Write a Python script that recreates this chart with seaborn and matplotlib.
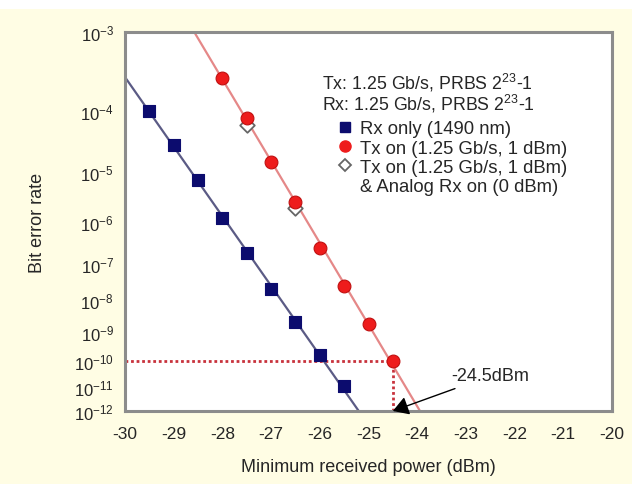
import numpy as np
import pandas as pd
import matplotlib
matplotlib.use("Agg")
import matplotlib.pyplot as plt
import seaborn as sns
from matplotlib.lines import Line2D
from matplotlib.patches import Rectangle

# Data
power_rx_only = [-29.5, -29.0, -28.5, -28.0, -27.5, -27.0, -26.5, -26.0, -25.5]
ber_rx_only = [1.0e-4, 2.9e-5, 7.0e-6, 1.2e-6, 1.8e-7, 2.1e-8, 2.1e-9, 1.7e-10, 1.1e-11]

power_tx_on = [-28.0, -27.5, -27.0, -26.5, -26.0, -25.5, -25.0, -24.5]
ber_tx_on = [2.8e-4, 7.9e-5, 1.5e-5, 2.6e-6, 2.5e-7, 2.5e-8, 1.8e-9, 1.0e-10]

power_analog = [-27.5, -26.5]
ber_analog = [6.1e-5, 1.9e-6]

x_ticks = list(range(-30, -19))
ber_exponents = [-3, -4, -5, -6, -7, -8, -9, -10, -11, -12]
ref_power = -24.5
ref_ber = 1e-10
ref_label = "-24.5dBm"

series_labels = ["Rx only (1490 nm)", "Tx on (1.25 Gb/s, 1 dBm)",
                 "Tx on (1.25 Gb/s, 1 dBm)", "& Analog Rx on (0 dBm)"]
header = ["Tx: 1.25 Gb/s, PRBS 2$^{23}$-1", "Rx: 1.25 Gb/s, PRBS 2$^{23}$-1"]


# BER scale: -log10(-log10(BER)) so that error-function curves become straight
def fwd(y):
    y = np.clip(np.asarray(y, dtype=float), 1e-300, 1 - 1e-12)
    return -np.log10(-np.log10(y))


def inv(u):
    return 10.0 ** (-(10.0 ** (-np.asarray(u, dtype=float))))


df_rx = pd.DataFrame({"power": power_rx_only, "ber": ber_rx_only})
df_tx = pd.DataFrame({"power": power_tx_on, "ber": ber_tx_on})
df_an = pd.DataFrame({"power": power_analog, "ber": ber_analog})

sns.set_style("white")
plt.rcParams["font.family"] = ["Liberation Sans", "DejaVu Sans"]
plt.rcParams["mathtext.fontset"] = "custom"
plt.rcParams["mathtext.rm"] = "Liberation Sans"
plt.rcParams["mathtext.it"] = "Liberation Sans"

bg = "#fffde4"
fig = plt.figure(figsize=(6.32, 4.85), dpi=100, facecolor="white")
fig.patches.append(Rectangle((0, 0), 1, 1 - 10 / 485, transform=fig.transFigure,
                             facecolor=bg, edgecolor="none", zorder=-10))
ax = fig.add_axes([125 / 632, 1 - 412 / 485, (612 - 125) / 632, (412 - 33) / 485])
ax.set_facecolor("white")
ax.set_yscale("function", functions=(fwd, inv))

# fitted straight lines in the transformed space
xs = np.linspace(-30, -20, 200)
for d, c in [(df_rx, "#5b5b85"), (df_tx, "#e58888")]:
    k, b = np.polyfit(d["power"], -fwd(d["ber"]), 1)
    ax.plot(xs, inv(-(k * xs + b)), color=c, lw=1.6, zorder=2)

# reference dotted lines
ax.hlines(ref_ber, x_ticks[0], ref_power, colors="#c8323c", linestyles=(0, (1, 1)), lw=2, zorder=1)
ax.vlines(ref_power, 10.0 ** ber_exponents[-1], ref_ber, colors="#c8323c",
          linestyles=(0, (1, 1)), lw=2, zorder=1)

sns.scatterplot(data=df_rx, x="power", y="ber", marker="s", s=68, color="#0c0c6e",
                edgecolor="#0c0c6e", linewidth=0.8, ax=ax, zorder=4)
sns.scatterplot(data=df_tx, x="power", y="ber", marker="o", s=85, color="#ee1c1c",
                edgecolor="#c01010", linewidth=0.8, ax=ax, zorder=4)
sns.scatterplot(data=df_an, x="power", y="ber", marker="D", s=55, facecolor="white",
                edgecolor="#666666", linewidth=1.3, ax=ax, zorder=3)

ax.set_xlim(x_ticks[0], x_ticks[-1])
ax.set_ylim(10.0 ** ber_exponents[-1], 10.0 ** ber_exponents[0])
ax.set_xticks(x_ticks)
ax.set_xticks(np.arange(x_ticks[0], x_ticks[-1], 0.5), minor=True)
ax.set_xticklabels([str(t) for t in x_ticks])
ax.set_yticks([10.0 ** e for e in ber_exponents])
ax.set_yticklabels(["10$^{%d}$" % e for e in ber_exponents])
ax.yaxis.set_minor_locator(matplotlib.ticker.NullLocator())
ax.tick_params(axis="both", which="major", direction="out", length=4, width=1.5,
               color="#8c8c8c", labelsize=12.5, pad=4)
ax.tick_params(axis="y", labelsize=12)
ax.tick_params(axis="x", which="minor", direction="out", length=3, width=1.2, color="#8c8c8c")
ax.tick_params(axis="x", pad=7)
for s in ax.spines.values():
    s.set_color("#8c8c8c")
    s.set_linewidth(2.2)

ax.set_xlabel("Minimum received power (dBm)", fontsize=13, labelpad=12)
ax.set_ylabel("Bit error rate", fontsize=13, labelpad=20)

ax.annotate(ref_label, xy=(ref_power, 10.0 ** ber_exponents[-1]), xytext=(-23.3, 2.8e-11),
            fontsize=13, ha="left", va="center",
            arrowprops=dict(arrowstyle="-|>,head_length=0.5,head_width=0.3", color="black",
                            lw=1, mutation_scale=19, shrinkA=2, shrinkB=0))

ax.text(0.404, 0.867, header[0], transform=ax.transAxes, fontsize=12.8, va="center")
ax.text(0.404, 0.812, header[1], transform=ax.transAxes, fontsize=12.8, va="center")

handles = [Line2D([], [], ls="none", marker="s", ms=7, color="#0c0c6e"),
           Line2D([], [], ls="none", marker="o", ms=8, color="#ee1c1c"),
           Line2D([], [], ls="none", marker="D", ms=6, mfc="white", mec="#666666", mew=1.3),
           Line2D([], [], ls="none")]
ax.legend(handles, series_labels, loc="upper left", bbox_to_anchor=(0.44, 0.767),
          frameon=False, fontsize=13.3, handlelength=0.6, handletextpad=0.5,
          labelspacing=0.12, borderpad=0, borderaxespad=0)

fig.savefig("out.png", dpi=100, facecolor=fig.get_facecolor())
